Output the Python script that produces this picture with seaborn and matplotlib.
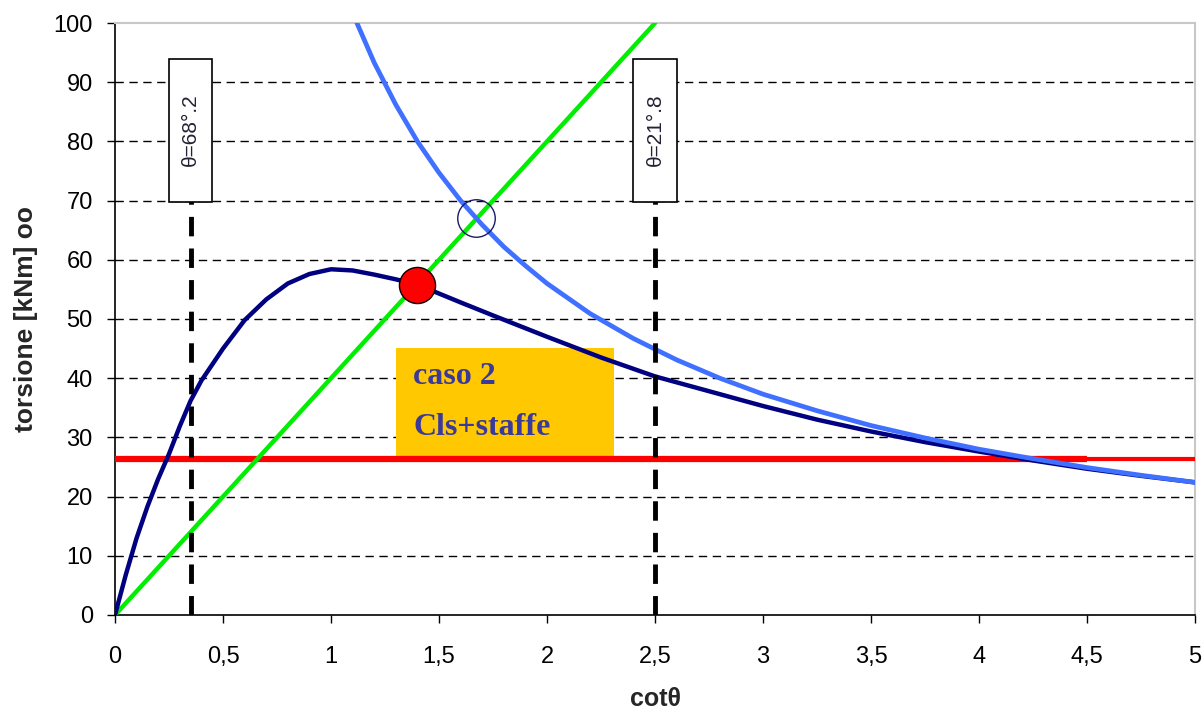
import numpy as np
import pandas as pd
import seaborn as sns
import matplotlib.pyplot as plt
from matplotlib.patches import Rectangle
from matplotlib.ticker import FuncFormatter

# curve values
cot_cls = [0, 0.05, 0.1, 0.15, 0.2, 0.25, 0.3, 0.35, 0.4, 0.5, 0.6, 0.7, 0.8, 0.9, 1.0,
           1.1, 1.2, 1.3, 1.4, 1.5, 1.6, 1.75, 2.0, 2.25, 2.5, 2.75, 3.0, 3.25, 3.5,
           3.75, 4.0, 4.25, 4.5, 4.75, 5.0]
t_cls = [0, 6.8, 13.0, 18.3, 23.0, 27.2, 31.9, 36.2, 39.6, 45.0, 49.8, 53.3, 56.0, 57.6, 58.4,
         58.2, 57.5, 56.7, 55.8, 54.3, 52.8, 50.6, 47.0, 43.5, 40.3, 37.8, 35.3, 33.0, 31.0,
         29.2, 27.6, 26.1, 24.7, 23.5, 22.4]

cot_staffe = [1.12, 1.2, 1.3, 1.4, 1.5, 1.6, 1.7, 1.8, 1.9, 2.0, 2.2, 2.4, 2.6, 2.8, 3.0,
              3.25, 3.5, 3.75, 4.0, 4.25, 4.5, 4.75, 5.0]
t_staffe = [100, 93.3, 86.2, 80.0, 74.7, 70.0, 65.9, 62.2, 59.0, 56.0, 50.9, 46.7, 43.1, 40.0, 37.3,
            34.5, 32.0, 29.9, 28.0, 26.4, 24.9, 23.6, 22.4]

cot_long = [0, 0.5, 1.0, 1.5, 2.0, 2.5]
t_long = [0, 20, 40, 60, 80, 100]

t_sd = 26.3
theta_cot = [0.35, 2.5]
theta_labels = ["θ=68°.2", "θ=21°.8"]
punto_rosso = (1.4, 55.8)
punto_vuoto = (1.67, 67.0)

sns.set_style("white")
plt.rcParams['font.family'] = ['Liberation Sans', 'DejaVu Sans']

fig = plt.figure(figsize=(12.03, 7.15), dpi=100)
ax = fig.add_axes([0.0956, 0.1399, 0.8978, 0.8279])

# horizontal grid
for g in range(10, 100, 10):
    ax.axhline(g, color="black", lw=1, dashes=(6, 4), zorder=1)

# orange box
ax.add_patch(Rectangle((1.30, 26.9), 1.01, 18.2, facecolor="#FFC800", edgecolor="none", zorder=2))
ax.text(1.38, 40.3, "caso 2", family="Liberation Serif", fontweight="bold", fontsize=23,
        color="#3A3A9A", va="center", zorder=3)
ax.text(1.38, 31.6, "Cls+staffe", family="Liberation Serif", fontweight="bold", fontsize=23,
        color="#3A3A9A", va="center", zorder=3)

# red horizontal line
ax.plot([0, 4.5], [t_sd, t_sd], color="#FF0000", lw=4.5, solid_capstyle="butt", zorder=3)
ax.plot([4.5, 5], [t_sd, t_sd], color="#FF0000", lw=3, solid_capstyle="butt", zorder=3)

df_cls = pd.DataFrame({"cot": cot_cls, "T": t_cls})
df_st = pd.DataFrame({"cot": cot_staffe, "T": t_staffe})
df_l = pd.DataFrame({"cot": cot_long, "T": t_long})

sns.lineplot(data=df_l, x="cot", y="T", color="#00EE00", lw=3.2, ax=ax, zorder=4)
sns.lineplot(data=df_cls, x="cot", y="T", color="#000080", lw=3.2, ax=ax, zorder=5)
sns.lineplot(data=df_st, x="cot", y="T", color="#4070FF", lw=3.4, ax=ax, zorder=6)

# theta lines and labels
for xc, lab in zip(theta_cot, theta_labels):
    ax.plot([xc, xc], [0, 70], color="black", lw=3.5, dashes=(4, 2.5), zorder=7)
    ax.add_patch(Rectangle((xc - 0.1, 69.8), 0.2, 24.2, facecolor="white", edgecolor="black",
                           lw=1.2, zorder=8))
    ax.text(xc, 81.9, lab, rotation=90, ha="center", va="center", fontsize=15,
            color="#222233", zorder=9)

ax.plot(*punto_rosso, "o", ms=26, mfc="#FF0000", mec="black", mew=1, zorder=10)
ax.plot(*punto_vuoto, "o", ms=27, mfc="none", mec="#1A1A6A", mew=1, zorder=10)

ax.set_xlim(0, 5)
ax.set_ylim(0, 100)
ax.set_xticks(np.arange(0, 5.01, 0.5))
ax.set_yticks(range(0, 101, 10))
ax.xaxis.set_major_formatter(FuncFormatter(lambda v, p: f"{v:g}".replace(".", ",")))
ax.tick_params(direction="out", length=6, width=1, labelsize=17, colors="black",
               bottom=True, left=True)
ax.tick_params(axis="x", pad=16)
ax.tick_params(axis="y", pad=10)

for s in ["left", "bottom"]:
    ax.spines[s].set_color("black")
    ax.spines[s].set_linewidth(1.2)
for s in ["top", "right"]:
    ax.spines[s].set_color("#C8C8C8")
    ax.spines[s].set_linewidth(1.5)

ax.set_xlabel("cotθ", fontsize=18, fontweight="bold", labelpad=14)
ax.set_ylabel("torsione [kNm] oo", fontsize=19, fontweight="bold", labelpad=11)

fig.savefig("out.png", dpi=100)
